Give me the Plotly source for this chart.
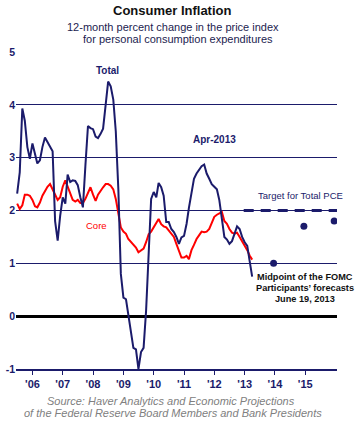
import pandas as pd
import plotly.graph_objects as go

# ---------------- data ----------------
start_month = "2005-07-01"
total_pce = [
    2.32, 2.72, 3.93, 3.70, 3.20, 2.98,
    3.27, 3.08, 2.89, 2.95, 3.20, 3.38, 3.30, 3.22, 3.12, 1.80, 1.43, 1.90,
    2.25, 2.13, 2.68, 2.54, 2.57, 2.56, 2.48, 2.25, 2.06, 2.85, 3.60, 3.56,
    3.54, 3.40, 3.37, 3.45, 3.55, 4.00, 4.44, 4.35, 4.10, 3.50, 2.40, 0.80,
    0.35, 0.32, 0.00, -0.30, -0.60, -0.63, -1.00, -0.68, -0.60, 0.10, 1.25, 2.22,
    2.35, 2.25, 2.52, 2.44, 2.28, 1.78, 1.78, 1.65, 1.59, 1.50, 1.37, 1.49,
    1.52, 1.75, 2.05, 2.35, 2.60, 2.70, 2.78, 2.84, 2.87, 2.70, 2.60, 2.50,
    2.45, 2.40, 2.20, 1.85, 1.50, 1.45, 1.37, 1.42, 1.55, 1.70, 1.65, 1.50,
    1.40, 1.33, 1.05, 0.75,
]
core_pce = [
    2.13, 2.03, 2.10, 2.30, 2.30, 2.28,
    2.20, 2.08, 2.06, 2.15, 2.28, 2.38, 2.45, 2.50, 2.40, 2.28, 2.20, 2.25,
    2.45, 2.57, 2.46, 2.30, 2.20, 2.17, 2.20, 2.14, 2.14, 2.22, 2.32, 2.44,
    2.30, 2.18, 2.30, 2.38, 2.44, 2.50, 2.50, 2.47, 2.40, 2.22, 1.95, 1.68,
    1.60, 1.56, 1.46, 1.40, 1.34, 1.30, 1.21, 1.24, 1.28, 1.40, 1.55, 1.60,
    1.68, 1.78, 1.84, 1.74, 1.70, 1.68, 1.62, 1.58, 1.50, 1.37, 1.24, 1.11,
    1.11, 1.14, 1.08, 1.25, 1.35, 1.46, 1.53, 1.60, 1.59, 1.60, 1.65, 1.78,
    1.88, 1.92, 1.95, 1.97, 1.80, 1.75, 1.65, 1.58, 1.56, 1.58, 1.50, 1.42,
    1.34, 1.25, 1.15, 1.07,
]
forecast_dates = ["2013-12-15", "2014-12-15", "2015-12-15"]
forecast_midpoints = [1.0, 1.7, 1.8]
target_dates = ["2012-12-20", "2016-01-18"]
target_value = [2.0, 2.0]
year_ticks = [f"{y}-01-01" for y in range(2006, 2016)]
year_labels = ["'06", "'07", "'08", "'09", "'10", "'11", "'12", "'13", "'14", "'15"]
y_ticks = [-1, 0, 1, 2, 3, 4, 5]

months = pd.date_range(start_month, periods=len(total_pce), freq="MS")

# ---------------- style ----------------
NAVY = "#1b1b6b"
RED = "#ff0000"
FONT = "Liberation Sans, Arial, sans-serif"
W, H = 359, 425
L, R, T, B = 16, 22, 52, 56
PW, PH = W - L - R, H - T - B


def px(x):
    return (x - L) / PW


def py(y):
    return (H - B - y) / PH


fig = go.Figure()
fig.add_trace(go.Scatter(x=list(target_dates), y=target_value, mode="lines",
                         line=dict(color=NAVY, width=3, dash="10px,7px"),
                         hoverinfo="skip", showlegend=False))
fig.add_trace(go.Scatter(x=months, y=core_pce, mode="lines",
                         line=dict(color=RED, width=2), showlegend=False))
fig.add_trace(go.Scatter(x=months, y=total_pce, mode="lines",
                         line=dict(color=NAVY, width=2), showlegend=False))
fig.add_trace(go.Scatter(x=forecast_dates, y=forecast_midpoints, mode="markers",
                         marker=dict(color=NAVY, size=7), showlegend=False))

ann = []


def text(x, y, s, size, color, bold=False, italic=False, xanchor="center"):
    if bold:
        s = f"<b>{s}</b>"
    if italic:
        s = f"<i>{s}</i>"
    ann.append(dict(x=px(x), y=py(y), xref="paper", yref="paper", text=s,
                    showarrow=False, xanchor=xanchor, yanchor="middle",
                    font=dict(family=FONT, size=size, color=color)))


text(172.5, 11, "Consumer Inflation", 13, "#111111", bold=True)
text(173, 26.5, "12-month percent change in the price index", 11, "#1c1c50")
text(178, 39, "for personal consumption expenditures", 11, "#1c1c50")
text(108, 70, "Total", 10, NAVY, bold=True)
text(214, 139, "Apr-2013", 10, NAVY, bold=True)
text(97, 226, "Core", 9.5, RED)
text(300, 196, "Target for Total PCE", 9.5, NAVY)
text(305, 277, "Midpoint of the FOMC", 9.2, "#111111", bold=True)
text(305, 288, "Participants\u2019 forecasts", 9.2, "#111111", bold=True)
text(305, 298.5, "June 19, 2013", 9.2, "#111111", bold=True)
text(171, 401, "Source: Haver Analytics and Economic Projections", 11, "#808080", italic=True)
text(172.5, 412.5, "of the Federal Reserve Board Members and Bank Presidents", 11, "#808080", italic=True)

fig.update_layout(
    template="none",
    width=W, height=H,
    margin=dict(l=L, r=R, t=T, b=B, pad=0),
    paper_bgcolor="white", plot_bgcolor="white",
    font=dict(family=FONT, color=NAVY),
    annotations=ann,
    showlegend=False,
    xaxis=dict(type="date", range=["2005-06-17", "2016-01-18"],
               tickvals=year_ticks, ticktext=year_labels,
               ticks="outside", ticklen=4, tickwidth=1.3, tickcolor=NAVY,
               showline=True, linecolor=NAVY, linewidth=1.5,
               showgrid=False, zeroline=False,
               tickfont=dict(family=FONT, size=11, color=NAVY, weight="bold")),
    yaxis=dict(range=[-1, 5], tickvals=y_ticks, ticktext=[str(v) for v in y_ticks],
               ticks="", showline=False, showgrid=True, gridcolor=NAVY, gridwidth=1.3,
               zeroline=True, zerolinecolor="black", zerolinewidth=3,
               tickfont=dict(family=FONT, size=10.5, color=NAVY, weight="bold")),
)

fig.write_html("out.html", config={"displayModeBar": False},
               post_script="document.body.style.margin='0';document.body.style.overflow='hidden';")
